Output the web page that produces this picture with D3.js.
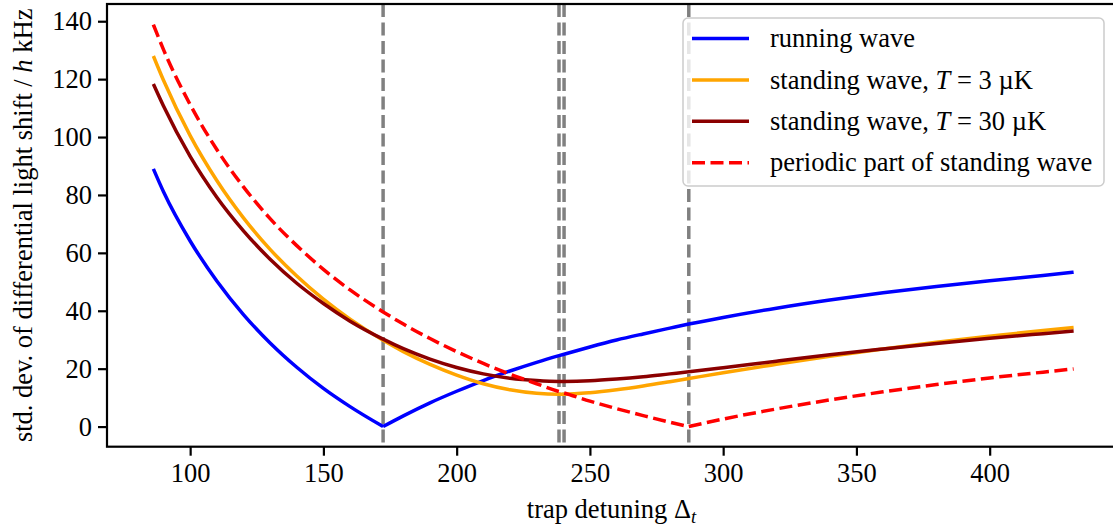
<!DOCTYPE html>
<html>
<head>
<meta charset="utf-8">
<script src="https://cdn.jsdelivr.net/npm/d3@7"></script>
<style>
  body { margin: 0; background: #fff; }
  svg text { font-family: "Liberation Serif", "Times New Roman", serif; fill: #000; }
</style>
</head>
<body>
<div id="chart"></div>
<script>
// shared detuning grid (includes the minima of every curve)
const detuning = [86.2, 90, 100, 110, 120, 130, 140, 150, 160, 172.4, 180, 190, 200, 210, 220, 230,
  238.4, 240.3, 250, 260, 270, 280, 287.1, 300, 320, 340, 360, 380, 400, 420, 431.5];

const runningWave = [89.0, 81.1, 64.1, 50.3, 38.7, 28.9, 20.5, 13.2, 6.9, 0, 3.7, 8.2, 12.2, 15.9, 19.2, 22.2,
  24.5, 25.0, 27.5, 29.9, 32.0, 34.0, 35.4, 37.7, 40.9, 43.7, 46.2, 48.4, 50.4, 52.2, 53.3];

const standing3uK = [128.0, 119.6, 100.5, 85.0, 72.1, 61.2, 52.0, 44.0, 37.1, 29.8, 25.9, 21.5, 17.8, 14.8, 12.7, 11.5,
  11.2, 11.2, 11.7, 12.7, 14.0, 15.5, 16.6, 18.6, 21.5, 24.3, 26.8, 29.1, 31.2, 33.2, 34.2];

const standing30uK = [118.3, 110.7, 93.3, 79.2, 67.6, 57.8, 49.5, 42.5, 36.4, 30.2, 26.9, 23.3, 20.4, 18.2, 16.7, 15.9,
  15.6, 15.6, 15.8, 16.4, 17.2, 18.2, 18.9, 20.3, 22.6, 24.8, 26.8, 28.7, 30.5, 32.1, 33.0];

const periodicPart = [138.8, 130.2, 111.2, 95.7, 82.8, 71.8, 62.5, 54.3, 47.2, 39.6, 35.4, 30.4, 25.9, 21.8, 18.1, 14.8,
  12.1, 11.6, 8.8, 6.2, 3.8, 1.5, 0, 2.6, 6.1, 9.2, 12.0, 14.5, 16.8, 18.8, 19.9];

// detunings of the minima, marked with vertical dashed lines
const minima = [172.4, 238.4, 240.3, 287.1];

const xTicks = [100, 150, 200, 250, 300, 350, 400];
const yTicks = [0, 20, 40, 60, 80, 100, 120, 140];

const series = [
  { name: "running wave", values: runningWave, color: "#0000ff", dash: null, kink: true },
  { name: "standing wave, ", temp: "3 µK", values: standing3uK, color: "#ffa500", dash: null, kink: false },
  { name: "standing wave, ", temp: "30 µK", values: standing30uK, color: "#8b0000", dash: null, kink: false },
  { name: "periodic part of standing wave", values: periodicPart, color: "#ff0000", dash: "13,5.5", kink: true }
];

const W = 1113, H = 532;
const margin = { top: 4, left: 107 };
const plotW = 1013, plotH = 442.7;
const fs = 26.5;
const lw = 3.5;

const svg = d3.select("#chart").append("svg")
  .attr("width", W).attr("height", H);

const x = d3.scaleLinear().domain([68.8, 448.9]).range([margin.left, margin.left + plotW]);
const y = d3.scaleLinear().domain([-6.95, 145.95]).range([margin.top + plotH, margin.top]);

svg.append("clipPath").attr("id", "plot-clip")
  .append("rect")
  .attr("x", margin.left).attr("y", margin.top)
  .attr("width", plotW).attr("height", plotH);

const plot = svg.append("g").attr("clip-path", "url(#plot-clip)");

// vertical markers
plot.selectAll("line.vmark")
  .data(minima)
  .enter()
  .append("line")
  .attr("class", "vmark")
  .attr("x1", d => x(d)).attr("x2", d => x(d))
  .attr("y1", margin.top).attr("y2", margin.top + plotH)
  .style("stroke", "#808080")
  .style("stroke-width", lw)
  .style("stroke-dasharray", "13,5.5");

const line = d3.line()
  .x(d => x(d[0]))
  .y(d => y(d[1]))
  .curve(d3.curveMonotoneX);

function pathFor(s) {
  const pts = detuning.map((d, i) => [d, s.values[i]]);
  if (!s.kink) return line(pts);
  // V-shaped curves: split at the zero so the corner stays sharp
  const k = s.values.indexOf(0);
  return line(pts.slice(0, k + 1)) + line(pts.slice(k));
}

plot.selectAll("path.curve")
  .data(series)
  .enter()
  .append("path")
  .attr("class", "curve")
  .attr("d", pathFor)
  .style("fill", "none")
  .style("stroke", d => d.color)
  .style("stroke-width", lw)
  .style("stroke-dasharray", d => d.dash);

// axes
const xAxis = svg.append("g")
  .attr("transform", "translate(0," + (margin.top + plotH) + ")")
  .call(d3.axisBottom(x).tickValues(xTicks).tickSize(9).tickPadding(7).tickFormat(d3.format("d")));
const yAxis = svg.append("g")
  .attr("transform", "translate(" + margin.left + ",0)")
  .call(d3.axisLeft(y).tickValues(yTicks).tickSize(9).tickPadding(6).tickFormat(d3.format("d")));

[xAxis, yAxis].forEach(g => {
  g.select(".domain").remove();
  g.selectAll(".tick line").style("stroke", "#000").style("stroke-width", 2.2);
  g.selectAll(".tick text").style("font-size", fs + "px").style("font-family", "Liberation Serif");
});

// frame
svg.append("rect")
  .attr("x", margin.left).attr("y", margin.top)
  .attr("width", plotW).attr("height", plotH)
  .style("fill", "none")
  .style("stroke", "#000")
  .style("stroke-width", 2.2);

// axis labels
const xl = svg.append("text")
  .attr("x", margin.left + plotW / 2 - 2)
  .attr("y", 518)
  .attr("text-anchor", "middle")
  .style("font-size", fs + "px");
xl.append("tspan").text("trap detuning Δ");
xl.append("tspan").text("t").style("font-style", "italic")
  .style("font-size", (fs * 0.7) + "px").attr("dy", 5);

const yl = svg.append("text")
  .attr("transform", "translate(32," + (margin.top + plotH / 2) + ") rotate(-90)")
  .attr("text-anchor", "middle")
  .style("font-size", fs + "px");
yl.append("tspan").text("std. dev. of differential light shift / ");
yl.append("tspan").text("h").style("font-style", "italic");
yl.append("tspan").text(" kHz");

// legend
const legend = svg.append("g");
legend.append("rect")
  .attr("x", 683).attr("y", 18)
  .attr("width", 421).attr("height", 168)
  .attr("rx", 5)
  .style("fill", "#fff")
  .style("fill-opacity", 0.8)
  .style("stroke", "#cccccc")
  .style("stroke-width", 1.5);

const rows = legend.selectAll("g.row")
  .data(series)
  .enter()
  .append("g")
  .attr("class", "row")
  .attr("transform", (d, i) => "translate(0," + (38.5 + i * 41.4) + ")");

rows.append("line")
  .attr("x1", 692).attr("x2", 749)
  .style("stroke", d => d.color)
  .style("stroke-width", lw)
  .style("stroke-dasharray", d => d.dash);

const labels = rows.append("text")
  .attr("x", 770)
  .attr("dy", "0.33em")
  .style("font-size", fs + "px");
labels.append("tspan").text(d => d.name);
labels.filter(d => d.temp)
  .call(t => {
    t.append("tspan").text("T").style("font-style", "italic");
    t.append("tspan").text(d => " = " + d.temp);
  });
</script>
</body>
</html>
